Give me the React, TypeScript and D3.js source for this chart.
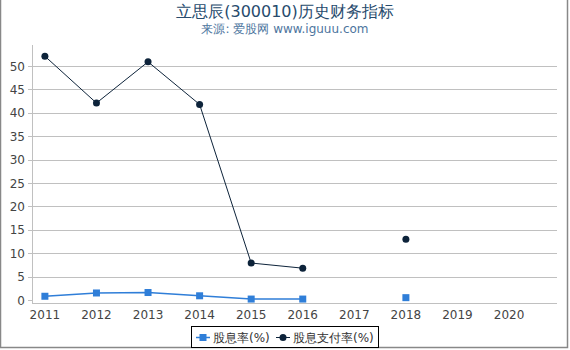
import React, { useEffect, useRef } from "react";
import * as d3 from "d3";

const years = [2011, 2012, 2013, 2014, 2015, 2016, 2017, 2018, 2019, 2020];
const yieldYears = [2011, 2012, 2013, 2014, 2015, 2016, 2018];
const yieldValues = [0.8, 1.5, 1.6, 0.9, 0.2, 0.2, 0.5];
const payoutYears = [2011, 2012, 2013, 2014, 2015, 2016, 2018];
const payoutValues = [52.1, 42.1, 50.9, 41.8, 7.9, 6.8, 13.0];
const yTicks = [0, 5, 10, 15, 20, 25, 30, 35, 40, 45, 50];

const width = 570;
const height = 350;

function App() {
  const ref = useRef<SVGSVGElement>(null);

  useEffect(() => {
    const svg = d3.select(ref.current);
    svg.selectAll("*").remove();
    const font = "DejaVu Sans, sans-serif";
    const left = 32, right = 557, top = 45, bottom = 300;

    // outer border
    svg.append("rect").attr("x", 0.5).attr("y", -2).attr("width", 567).attr("height", 349.5)
      .attr("fill", "white").attr("stroke", "#888").attr("stroke-width", 1.5);

    const x = d3.scaleLinear().domain([2010.75, 2020.93]).range([left, right]);
    const y = d3.scaleLinear().domain([0, 54.5]).range([bottom, top]);

    // grid
    svg.append("g").selectAll("line").data(yTicks.filter(t => t > 0)).join("line")
      .attr("x1", left).attr("x2", right)
      .attr("y1", d => Math.round(y(d)) + 0.5).attr("y2", d => Math.round(y(d)) + 0.5)
      .attr("stroke", "#c0c0c0").attr("stroke-width", 1);

    // axis lines
    svg.append("line").attr("x1", left + 0.5).attr("x2", left + 0.5).attr("y1", top).attr("y2", bottom + 3)
      .attr("stroke", "#c0c0c0");
    svg.append("line").attr("x1", left).attr("x2", right).attr("y1", bottom + 3.5).attr("y2", bottom + 3.5)
      .attr("stroke", "#c0c0c0");
    svg.append("g").selectAll("line").data(yTicks).join("line")
      .attr("x1", left - 4).attr("x2", left)
      .attr("y1", d => Math.round(y(d)) + 0.5).attr("y2", d => Math.round(y(d)) + 0.5)
      .attr("stroke", "#c0c0c0");

    // y labels
    svg.append("g").selectAll("text").data(yTicks).join("text")
      .attr("x", left - 7).attr("y", d => y(d) + 4.5)
      .attr("text-anchor", "end").attr("font-family", font).attr("font-size", 12)
      .attr("fill", "#444").text(d => d);

    // x labels
    svg.append("g").selectAll("text").data(years).join("text")
      .attr("x", d => x(d)).attr("y", bottom + 19)
      .attr("text-anchor", "middle").attr("font-family", font).attr("font-size", 12)
      .attr("fill", "#444").text(d => d);

    // lines (break across missing years)
    const segs = (ys: number[], vs: number[]) => {
      const out: [number, number][][] = [];
      let cur: [number, number][] = [];
      ys.forEach((yr, i) => {
        if (i > 0 && yr - ys[i - 1] > 1) { out.push(cur); cur = []; }
        cur.push([yr, vs[i]]);
      });
      out.push(cur);
      return out;
    };
    const line = d3.line<[number, number]>().x(d => x(d[0])).y(d => y(d[1]));

    const payoutColor = "#0d233a";
    const yieldColor = "#2f7ed8";

    svg.append("g").selectAll("path").data(segs(payoutYears, payoutValues).filter(s => s.length > 1)).join("path")
      .attr("d", d => line(d)).attr("fill", "none").attr("stroke", payoutColor).attr("stroke-width", 1);
    svg.append("g").selectAll("circle").data(payoutYears.map((yr, i) => [yr, payoutValues[i]])).join("circle")
      .attr("cx", d => x(d[0])).attr("cy", d => y(d[1])).attr("r", 3.5).attr("fill", payoutColor);

    svg.append("g").selectAll("path").data(segs(yieldYears, yieldValues).filter(s => s.length > 1)).join("path")
      .attr("d", d => line(d)).attr("fill", "none").attr("stroke", yieldColor).attr("stroke-width", 1.5);
    svg.append("g").selectAll("rect").data(yieldYears.map((yr, i) => [yr, yieldValues[i]])).join("rect")
      .attr("x", d => x(d[0]) - 3.5).attr("y", d => y(d[1]) - 3.5)
      .attr("width", 7).attr("height", 7).attr("fill", yieldColor);

    // title
    svg.append("text").attr("x", 285).attr("y", 17).attr("text-anchor", "middle")
      .attr("font-family", font).attr("font-size", 16).attr("fill", "#274b6d")
      .text("立思辰(300010)历史财务指标");
    svg.append("text").attr("x", 285).attr("y", 33).attr("text-anchor", "middle")
      .attr("font-family", font).attr("font-size", 12).attr("fill", "#4d759e")
      .text("来源: 爱股网 www.iguuu.com");

    // legend
    const lg = svg.append("g");
    lg.append("rect").attr("x", 191.5).attr("y", 326.5).attr("width", 187).attr("height", 21)
      .attr("fill", "white").attr("stroke", "#000").attr("stroke-width", 1);
    const items = [
      { label: "股息率(%)", color: yieldColor, shape: "square", x: 196 },
      { label: "股息支付率(%)", color: payoutColor, shape: "circle", x: 276 },
    ];
    items.forEach(it => {
      lg.append("line").attr("x1", it.x).attr("x2", it.x + 14).attr("y1", 337.5).attr("y2", 337.5)
        .attr("stroke", it.color).attr("stroke-width", it.shape === "square" ? 1.5 : 1);
      if (it.shape === "square") {
        lg.append("rect").attr("x", it.x + 3.5).attr("y", 334).attr("width", 7).attr("height", 7).attr("fill", it.color);
      } else {
        lg.append("circle").attr("cx", it.x + 7).attr("cy", 337.5).attr("r", 3.5).attr("fill", it.color);
      }
      lg.append("text").attr("x", it.x + 17).attr("y", 342).attr("font-family", font)
        .attr("font-size", 12).attr("fill", "#333").text(it.label);
    });
  }, []);

  return (
    <svg ref={ref} width={width} height={height}
      style={{ position: "absolute", left: 0, top: 0, background: "white" }} />
  );
}

export default App;
